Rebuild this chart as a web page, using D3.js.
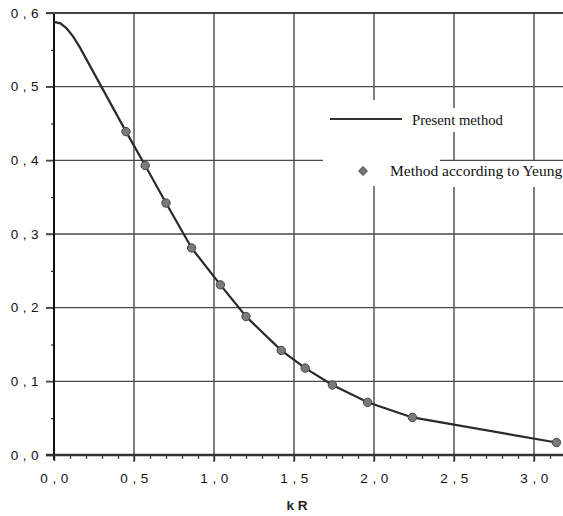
<!DOCTYPE html>
<html><head><meta charset="utf-8">
<script src="https://cdn.jsdelivr.net/npm/d3@7"></script>
<style>body{margin:0;background:#fff}svg{display:block}</style>
</head><body><svg id="c" width="563" height="516"></svg>
<script>
const xTicks = [0, 0.5, 1.0, 1.5, 2.0, 2.5, 3.0];
const yTicks = [0, 0.1, 0.2, 0.3, 0.4, 0.5, 0.6];
const xMinor = [0.1,0.2,0.3,0.4,0.6,0.7,0.8,0.9,1.1,1.2,1.3,1.4,1.6,1.7,1.8,1.9,2.1,2.2,2.3,2.4,2.6,2.7,2.8,2.9,3.1];
const yMinor = [0.05, 0.15, 0.25, 0.35, 0.45, 0.55];
// Present method (curve)
const curveX = [0, 0.04, 0.08, 0.12, 0.16, 0.45, 0.57, 0.70, 0.86, 1.04, 1.20, 1.42, 1.57, 1.74, 1.96, 2.24, 3.14];
const curveY = [0.588, 0.586, 0.579, 0.568, 0.554, 0.439, 0.393, 0.342, 0.281, 0.231, 0.188, 0.142, 0.118, 0.095, 0.0715, 0.051, 0.017];
// Method according to Yeung (points)
const yeungX = [0.45, 0.57, 0.70, 0.86, 1.04, 1.20, 1.42, 1.57, 1.74, 1.96, 2.24, 3.14];
const yeungY = [0.439, 0.393, 0.342, 0.281, 0.231, 0.188, 0.142, 0.118, 0.095, 0.0715, 0.051, 0.017];
const legendLabels = ["Present method", "Method according to Yeung"];
const xTitle = "k R";

const svg = d3.select("#c");
const x = d3.scaleLinear().domain([0, 3]).range([54, 534]);
const y = d3.scaleLinear().domain([0, 0.6]).range([455, 13]);
const fmt = d => d3.format(".1f")(d).replace(".", " , ");
const right = 563;

// grid
const grid = svg.append("g").attr("stroke", "#4a4a4a").attr("stroke-width", 1.4);
grid.selectAll(".h").data(yTicks.filter(d => d > 0)).join("line")
  .attr("x1", x(0) - 8).attr("x2", right).attr("y1", d => y(d)).attr("y2", d => y(d));
grid.selectAll(".v").data(xTicks.filter(d => d > 0)).join("line")
  .attr("x1", d => x(d)).attr("x2", d => x(d)).attr("y1", y(0.6)).attr("y2", y(0) + 7);

// legend white backgrounds (hide grid behind legend)
svg.append("rect").attr("x", 323).attr("y", 100).attr("width", 117).attr("height", 86).attr("fill", "#fff");
svg.append("rect").attr("x", 405).attr("y", 108).attr("width", 100).attr("height", 24).attr("fill", "#fff");
svg.append("rect").attr("x", 382).attr("y", 161).attr("width", 180).attr("height", 26).attr("fill", "#fff");

// axes
const yAxis = d3.axisLeft(y).tickValues(yTicks).tickSize(8).tickPadding(7).tickFormat(fmt);
const gy = svg.append("g").attr("transform", `translate(${x(0)},0)`).call(yAxis);
gy.select(".domain").remove();
gy.selectAll(".tick line").attr("stroke", "#444").attr("stroke-width", 1.4);
gy.selectAll("text").attr("font-family", "Liberation Sans, Arial, sans-serif").attr("font-size", 13.5)
  .attr("fill", "#111").attr("letter-spacing", 0.4);
svg.append("g").attr("transform", `translate(${x(0)},0)`)
  .call(d3.axisLeft(y).tickValues(yMinor).tickSize(3).tickFormat(""))
  .call(g => g.select(".domain").remove())
  .selectAll("line").attr("stroke", "#333").attr("stroke-width", 1.2);

const xAxis = d3.axisBottom(x).tickValues(xTicks).tickSize(6).tickPadding(12).tickFormat(fmt);
const gx = svg.append("g").attr("transform", `translate(0,${y(0)})`).call(xAxis);
gx.select(".domain").remove();
gx.selectAll(".tick line").attr("stroke", "#333").attr("stroke-width", 1.4);
gx.selectAll("text").attr("font-family", "Liberation Sans, Arial, sans-serif").attr("font-size", 13.5)
  .attr("fill", "#111").attr("letter-spacing", 0.4);
svg.append("g").attr("transform", `translate(0,${y(0)})`)
  .call(d3.axisBottom(x).tickValues(xMinor).tickSize(4).tickFormat(""))
  .call(g => g.select(".domain").remove())
  .selectAll("line").attr("stroke", "#333").attr("stroke-width", 1.2);

// axis lines
svg.append("line").attr("x1", x(0)).attr("x2", x(0)).attr("y1", y(0.6)).attr("y2", y(0) + 5)
  .attr("stroke", "#111").attr("stroke-width", 2);
svg.append("line").attr("x1", x(0) - 8).attr("x2", right).attr("y1", y(0)).attr("y2", y(0))
  .attr("stroke", "#333").attr("stroke-width", 2.4);
svg.append("line").attr("x1", x(0) - 8).attr("x2", right).attr("y1", y(0.6)).attr("y2", y(0.6))
  .attr("stroke", "#444").attr("stroke-width", 1.8);

// x title
svg.append("text").attr("x", 297).attr("y", 510).attr("text-anchor", "middle")
  .attr("font-family", "Liberation Sans, Arial, sans-serif").attr("font-size", 13.5).attr("font-weight", "bold")
  .attr("fill", "#222").text(xTitle);

// curve
const line = d3.line().x(d => x(d[0])).y(d => y(d[1]));
svg.append("path").datum(curveX.map((v, i) => [v, curveY[i]]))
  .attr("d", line).attr("fill", "none").attr("stroke", "#2a2a2a").attr("stroke-width", 2.2);

// points
svg.selectAll(".pt").data(yeungX.map((v, i) => [v, yeungY[i]])).join("circle")
  .attr("cx", d => x(d[0])).attr("cy", d => y(d[1])).attr("r", 4.2)
  .attr("fill", "#7a7a7a").attr("stroke", "#444").attr("stroke-width", 1);

// legend
svg.append("line").attr("x1", 330).attr("x2", 402).attr("y1", 119).attr("y2", 119)
  .attr("stroke", "#333").attr("stroke-width", 1.8);
svg.append("text").attr("x", 412).attr("y", 125).attr("font-family", "Liberation Serif, Times New Roman, serif")
  .attr("font-size", 14.7).attr("fill", "#111").text(legendLabels[0]);
svg.append("path").attr("d", d3.symbol(d3.symbolSquare, 38)()).attr("transform", "translate(363,171) rotate(45)")
  .attr("fill", "#777").attr("stroke", "#555").attr("stroke-width", 1).attr("stroke-linejoin", "round");
svg.append("text").attr("x", 390).attr("y", 176).attr("font-family", "Liberation Serif, Times New Roman, serif")
  .attr("font-size", 15.5).attr("fill", "#111").text(legendLabels[1]);
</script></body></html>
